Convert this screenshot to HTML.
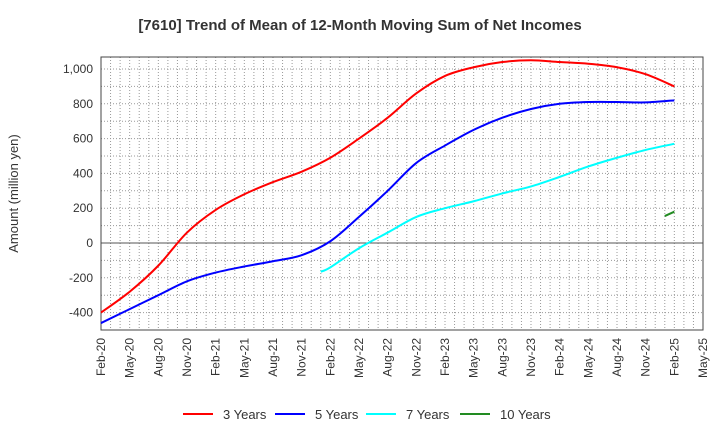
<!DOCTYPE html>
<html><head><meta charset="utf-8"><style>
body{margin:0;background:#fff;font-family:"Liberation Sans",sans-serif;}
svg text{font-family:"Liberation Sans",sans-serif;}
</style></head><body>
<svg id="c" width="720" height="440"></svg>
<script>
const xLabels=["Feb-20","May-20","Aug-20","Nov-20","Feb-21","May-21","Aug-21","Nov-21","Feb-22","May-22","Aug-22","Nov-22","Feb-23","May-23","Aug-23","Nov-23","Feb-24","May-24","Aug-24","Nov-24","Feb-25","May-25"];
const yTicks=[-400,-200,0,200,400,600,800,1000];
const months3=[0,3,6,9,12,15,18,21,24,27,30,33,36,39,42,45,48,51,54,57,60];
const vals3=[-400,-280,-130,60,190,280,350,410,490,600,720,860,960,1010,1040,1050,1040,1030,1010,970,900];
const months5=months3;
const vals5=[-460,-380,-300,-220,-170,-135,-105,-70,10,150,300,460,560,650,720,770,800,810,810,808,820];
const months7=[23,24,27,30,33,36,39,42,45,48,51,54,57,60];
const vals7=[-165,-140,-30,60,150,200,240,285,325,380,440,490,535,570];
const months10=[59,60];
const vals10=[155,180];
const series=[
 {name:"3 Years",color:"#ff0000",m:months3,v:vals3},
 {name:"5 Years",color:"#0000ff",m:months5,v:vals5},
 {name:"7 Years",color:"#00ffff",m:months7,v:vals7},
 {name:"10 Years",color:"#228b22",m:months10,v:vals10}];
const L=101,R=703,T=57,B=330;
const x=m=>L+m*(R-L)/63;
const y=v=>243-v*0.174;
const svg=document.getElementById('c');
const NS="http://www.w3.org/2000/svg";
function mk(t,a){const e=document.createElementNS(NS,t);for(const k in a)e.setAttribute(k,a[k]);svg.appendChild(e);return e;}
let t=mk('text',{x:360,y:30,'text-anchor':'middle','font-size':15,'font-weight':'bold',fill:'#333'});
t.textContent="[7610]  Trend of Mean of 12-Month Moving Sum of Net Incomes";

mk('rect',{x:L,y:T,width:R-L,height:B-T,fill:'#fff'});
for(let m=1;m<63;m++){const g=mk('line',{x1:x(m),x2:x(m),y1:T,y2:B,stroke:'#999','stroke-dasharray':'1,2','stroke-width':1});
}
for(let v=-500;v<=1100;v+=100){if(y(v)<T||y(v)>B)continue;const g=mk('line',{x1:L,x2:R,y1:y(v),y2:y(v),stroke:v==0?'#555':'#999','stroke-dasharray':v==0?'':'1,2','stroke-width':1});
}
mk('rect',{x:L,y:T,width:R-L,height:B-T,fill:'none',stroke:'#444','stroke-width':1});
yTicks.forEach(v=>{const e=mk('text',{x:L-8,y:y(v)+4,'text-anchor':'end','font-size':12,fill:'#333'});
e.textContent=v.toLocaleString('en-US');
});
xLabels.forEach((s,i)=>{const xx=x(i*3);const e=mk('text',{x:xx+4,y:B+8,'text-anchor':'end','font-size':12,fill:'#333',transform:`rotate(-90 ${xx+4} ${B+8})`});
e.textContent=s;});
let yt=mk('text',{x:18,y:(T+B)/2,'text-anchor':'middle','font-size':13,fill:'#333',transform:`rotate(-90 18 ${(T+B)/2})`});
yt.textContent="Amount (million yen)";
function path(p){if(p.length<3)return 'M'+p.map(q=>q.join(',')).join('L');
let d='M'+p[0][0]+','+p[0][1];
for(let i=0;i<p.length-1;i++){const p0=p[i-1]||p[i],p1=p[i],p2=p[i+1],p3=p[i+2]||p2;
d+=`C${p1[0]+(p2[0]-p0[0])/6},${p1[1]+(p2[1]-p0[1])/6} ${p2[0]-(p3[0]-p1[0])/6},${p2[1]-(p3[1]-p1[1])/6} ${p2[0]},${p2[1]}`;}
return d;}
series.forEach(s=>{const p=s.m.map((m,i)=>[x(m),y(s.v[i])]);
const e=mk('path',{d:path(p),fill:'none',stroke:s.color,'stroke-width':2});
});
const lx=[183,275,366,460];
series.forEach((s,i)=>{const l=mk('line',{x1:lx[i],x2:lx[i]+30,y1:414,y2:414,stroke:s.color,'stroke-width':2});

const e=mk('text',{x:lx[i]+40,y:419,'font-size':13,fill:'#333'});e.textContent=s.name;
});
</script>
</body></html>
